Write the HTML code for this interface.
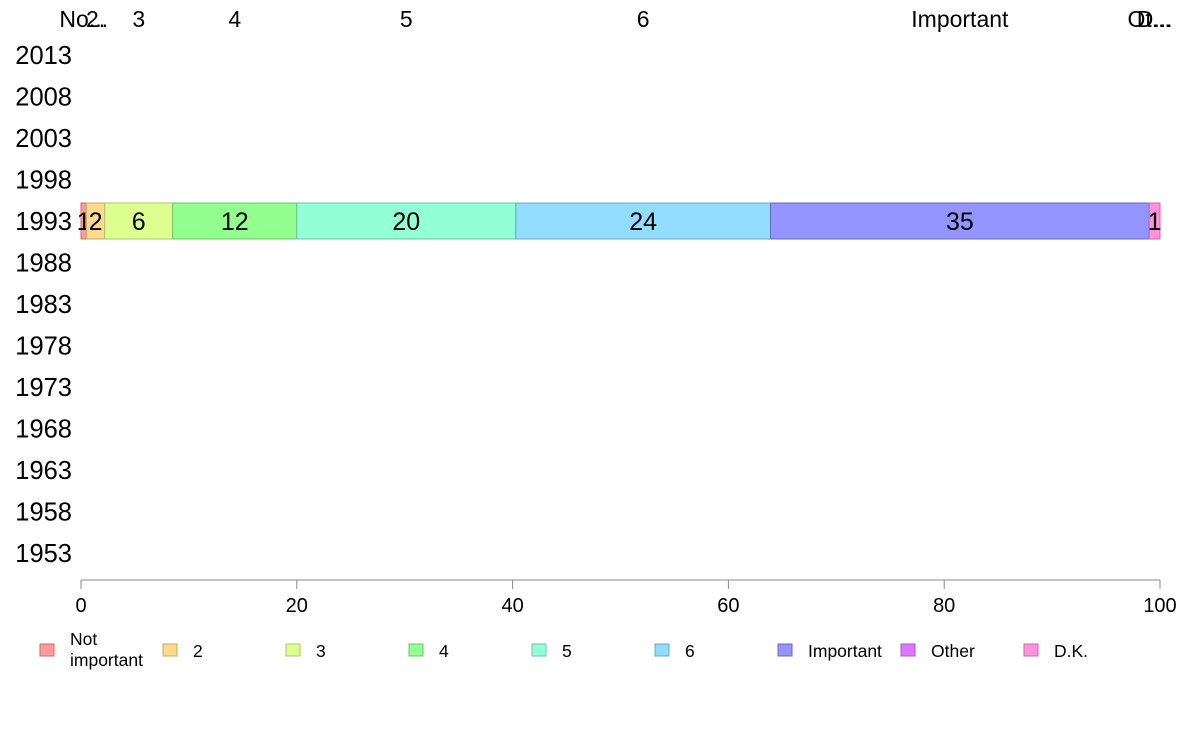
<!DOCTYPE html>
<html><head><meta charset="utf-8"><style>
body{margin:0;background:#fff;font-family:"Liberation Sans",sans-serif;}
svg text{font-family:"Liberation Sans",sans-serif;}
</style></head><body>
<svg id="chart" width="1188" height="736" viewBox="0 0 1188 736"></svg>
<script>
const years=[2013,2008,2003,1998,1993,1988,1983,1978,1973,1968,1963,1958,1953];
const categories=["Not important","2","3","4","5","6","Important","Other","D.K."];
const topLabels=["No...","2.","3","4","5","6","Important","Ot...","D..."];
const barYear=1993;
const values=[0.5,1.7,6.3,11.5,20.3,23.6,35.1,0,1.0];
const valueLabels=["1","2","6","12","20","24","35","","1"];
const xTicks=[0,20,40,60,80,100];
const fills=["#ff9a9a","#ffd98c","#ddff90","#92ff8e","#92ffd8","#92dcff","#9494ff","#dd77ff","#ff92dd"];
const strokes=["#d46a6a","#c8a860","#a8c868","#6cc46a","#6ac4a8","#6aa8c8","#6a6ac0","#a858c8","#c868a8"];
const NS="http://www.w3.org/2000/svg";
const svg=document.getElementById("chart");
const x0=81,x1=1160;
const xs=v=>x0+(x1-x0)*v/100;
const yOf=i=>55+i*41.5;
function mk(t,a,p){const e=document.createElementNS(NS,t);for(const k in a)e.setAttribute(k,a[k]);(p||svg).appendChild(e);return e;}
years.forEach((y,i)=>{
  const t=mk("text",{x:72,y:yOf(i)+9,"text-anchor":"end","font-size":25.5,fill:"#000"});
  t.textContent=y;
  
  
});
const bi=years.indexOf(barYear);
let cum=0;
values.forEach((v,i)=>{
  const a=xs(cum),b=xs(cum+v),c=(a+b)/2;
  if(v>0){
    const r=mk("rect",{x:a,y:yOf(bi)-18,width:b-a,height:36,fill:fills[i],stroke:strokes[i],"stroke-width":1});
    
    
    const t=mk("text",{x:c,y:yOf(bi)+9,"text-anchor":"middle","font-size":25,fill:"#000"});
    t.textContent=valueLabels[i];
    
    
  }
  const tl=mk("text",{x:c,y:27,"text-anchor":"middle","font-size":23,fill:"#000"});
  tl.textContent=topLabels[i];
  
  
  cum+=v;
});
const ax=mk("line",{x1:x0,x2:x1,y1:580,y2:580,stroke:"#888","stroke-width":1});


xTicks.forEach(v=>{
  const l=mk("line",{x1:xs(v),x2:xs(v),y1:580,y2:589,stroke:"#888"});
  
  
  const t=mk("text",{x:xs(v),y:612,"text-anchor":"middle","font-size":20,fill:"#000"});
  t.textContent=v;
  
  
});
categories.forEach((c,i)=>{
  const lx=40+i*123;
  const g=mk("g",{});
  
  
  mk("rect",{x:lx,y:644,width:14,height:12,fill:fills[i],stroke:strokes[i]},g);
  if(c==="Not important"){
    const t1=mk("text",{x:lx+30,y:645,"font-size":17.5,fill:"#000"},g);t1.textContent="Not";
    const t2=mk("text",{x:lx+30,y:666,"font-size":17.5,fill:"#000"},g);t2.textContent="important";
  }else{
    const t=mk("text",{x:lx+30,y:657,"font-size":17.5,fill:"#000"},g);t.textContent=c;
  }
});
</script>
</body></html>
